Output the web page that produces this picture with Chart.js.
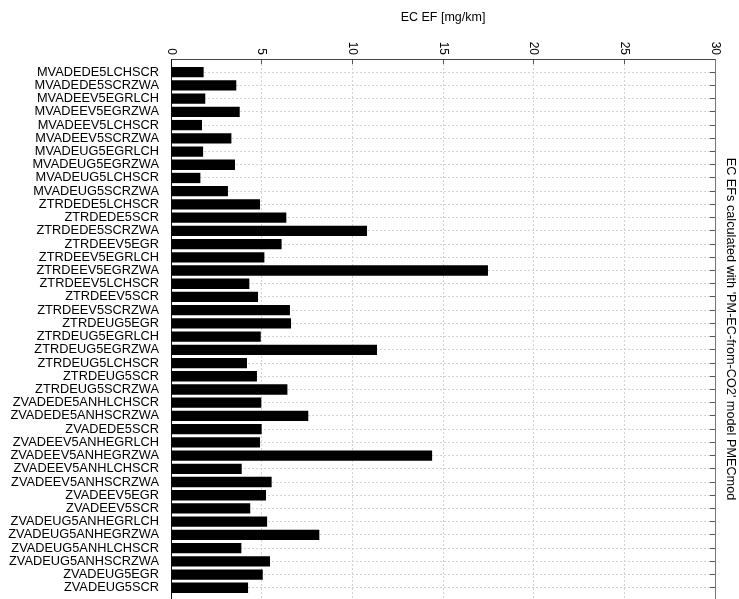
<!DOCTYPE html>
<html>
<head>
<meta charset="utf-8">
<script src="https://cdn.jsdelivr.net/npm/chart.js@4/dist/chart.umd.min.js"></script>
<style>
html,body{margin:0;padding:0;background:#fff;overflow:hidden;}
#wrap{width:739px;height:599px;}
</style>
</head>
<body>
<div id="wrap"><canvas id="c" width="739" height="599"></canvas></div>
<script>
const categories = [
  "MVADEDE5LCHSCR","MVADEDE5SCRZWA","MVADEEV5EGRLCH","MVADEEV5EGRZWA","MVADEEV5LCHSCR",
  "MVADEEV5SCRZWA","MVADEUG5EGRLCH","MVADEUG5EGRZWA","MVADEUG5LCHSCR","MVADEUG5SCRZWA",
  "ZTRDEDE5LCHSCR","ZTRDEDE5SCR","ZTRDEDE5SCRZWA","ZTRDEEV5EGR","ZTRDEEV5EGRLCH",
  "ZTRDEEV5EGRZWA","ZTRDEEV5LCHSCR","ZTRDEEV5SCR","ZTRDEEV5SCRZWA","ZTRDEUG5EGR",
  "ZTRDEUG5EGRLCH","ZTRDEUG5EGRZWA","ZTRDEUG5LCHSCR","ZTRDEUG5SCR","ZTRDEUG5SCRZWA",
  "ZVADEDE5ANHLCHSCR","ZVADEDE5ANHSCRZWA","ZVADEDE5SCR","ZVADEEV5ANHEGRLCH","ZVADEEV5ANHEGRZWA",
  "ZVADEEV5ANHLCHSCR","ZVADEEV5ANHSCRZWA","ZVADEEV5EGR","ZVADEEV5SCR","ZVADEUG5ANHEGRLCH",
  "ZVADEUG5ANHEGRZWA","ZVADEUG5ANHLCHSCR","ZVADEUG5ANHSCRZWA","ZVADEUG5EGR","ZVADEUG5SCR"
];
const ecEF = [
  1.80, 3.60, 1.89, 3.79, 1.71,
  3.33, 1.77, 3.53, 1.62, 3.14,
  4.91, 6.36, 10.81, 6.10, 5.15,
  17.48, 4.32, 4.80, 6.56, 6.62,
  4.95, 11.36, 4.19, 4.74, 6.42,
  4.98, 7.57, 5.00, 4.91, 14.40,
  3.90, 5.55, 5.24, 4.37, 5.30,
  8.18, 3.88, 5.46, 5.06, 4.25
];
const xTicks = [0, 5, 10, 15, 20, 25, 30];
const xTitle = "EC EF [mg/km]";
const sideTitle = "EC EFs calculated with 'PM-EC-from-CO2' model PMECmod";
const yMax = 40.85;

Chart.defaults.font.family = "'Liberation Sans', Arial, Helvetica, sans-serif";
Chart.defaults.color = '#000';

const points = ecEF.map((v, i) => ({x: v, y: i + 1}));

function catTicks() {
  const t = [{value: 0}];
  categories.forEach((c, i) => t.push({value: i + 1}));
  t.push({value: yMax});
  return t;
}

const rotatedTicks = {
  id: 'rotatedTicks',
  afterDraw(chart) {
    const sx = chart.scales.x;
    const ctx = chart.ctx;
    ctx.save();
    ctx.font = "12px 'Liberation Sans', Arial, sans-serif";
    ctx.fillStyle = '#000';
    ctx.textAlign = 'right';
    ctx.textBaseline = 'middle';
    xTicks.forEach(t => {
      const px = sx.getPixelForValue(t);
      ctx.save();
      ctx.translate(px, chart.chartArea.top - 4);
      ctx.rotate(Math.PI / 2);
      ctx.fillText(String(t), 0, 0);
      ctx.restore();
    });
    ctx.restore();
  }
};

new Chart(document.getElementById('c'), {
  type: 'bar',
  data: {
    datasets: [{
      data: points,
      backgroundColor: '#000',
      borderWidth: 0,
      barPercentage: 0.78,
      categoryPercentage: 1,
      xAxisID: 'x',
      yAxisID: 'y'
    }]
  },
  options: {
    indexAxis: 'y',
    responsive: false,
    animation: false,
    devicePixelRatio: 1,
    layout: {padding: 0},
    plugins: {legend: {display: false}, tooltip: {enabled: false}, title: {display: false}},
    scales: {
      x: {
        type: 'linear',
        position: 'top',
        min: 0, max: 30,
        afterBuildTicks(s) { s.ticks = xTicks.map(v => ({value: v})); },
        afterFit(s) { s.height = 59; },
        ticks: {display: false},
        grid: {color: '#d2d2d2', lineWidth: 1, offset: false, drawTicks: true, tickLength: -5, tickColor: '#555', tickWidth: 1, tickBorderDash: []},
        border: {display: true, color: '#444', width: 1, dash: [2, 2]},
        title: {display: true, text: xTitle, color: '#000', font: {size: 12.5}, padding: {top: 10, bottom: 0}}
      },
      y: {
        type: 'linear',
        position: 'left',
        reverse: true,
        offset: false,
        min: 0, max: yMax,
        afterBuildTicks(s) { s.ticks = catTicks(); },
        afterFit(s) { s.width = 171; s.paddingTop = 0; s.paddingBottom = 0; },
        ticks: {
          autoSkip: false,
          padding: 0,
          color: '#000',
          font: {size: 12.8},
          callback: (v) => (Number.isInteger(v) && categories[v - 1]) ? categories[v - 1] : null
        },
        grid: {color: '#d2d2d2', lineWidth: 1, offset: false, drawTicks: true, tickLength: 12, tickColor: 'rgba(0,0,0,0)'},
        border: {display: true, color: '#111', width: 1, dash: [2, 2]}
      },
      y2: {
        type: 'linear',
        axis: 'y',
        position: 'right',
        reverse: true,
        offset: false,
        min: 0, max: yMax,
        afterBuildTicks(s) { s.ticks = categories.map((c, i) => ({value: i + 1})); },
        afterFit(s) { s.width = 24; s.paddingTop = 0; s.paddingBottom = 0; },
        ticks: {display: false},
        grid: {drawOnChartArea: false, offset: false, drawTicks: true, tickLength: -5, tickColor: '#555', tickWidth: 1, tickBorderDash: []},
        border: {display: true, color: '#777', width: 1},
        title: {display: true, text: sideTitle, color: '#000', font: {size: 12.7}, padding: {top: 1, bottom: 1}}
      }
    }
  },
  plugins: [rotatedTicks]
});
</script>
</body>
</html>
